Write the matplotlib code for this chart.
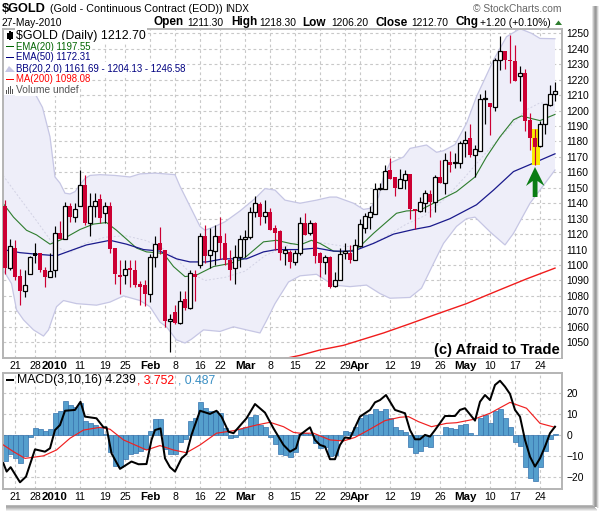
import numpy as np
import matplotlib
matplotlib.use('Agg')
import matplotlib.pyplot as plt
from matplotlib.patches import Rectangle, Polygon

plt.rcParams['font.family'] = ['Liberation Sans', 'DejaVu Sans']

W, H = 601, 514

# ---- daily candles (price) ----
opens = [1138,1098,1111,1093,1083.5,1094.5,1108,1107.5,1097,1092.5,1096.5,1120.5,1117,1138,1131,1138.5,1152,1127.5,1138,1142.5,1133.5,1138,1111,1093.5,1093.5,1098,1097,1087.5,1087,1081,1105.5,1114,1110,1063.5,1069.5,1062.5,1078,1072,1094.5,1100,1119,1106.5,1109,1119,1114,1103,1098,1105.5,1117,1118,1134,1139.5,1132,1134.5,1124,1122,1108,1108.5,1102,1107.5,1127.5,1120.5,1127,1107.5,1102,1105.5,1086.5,1090,1107.5,1108,1103.5,1112,1124,1131,1133,1149,1149.5,1161.5,1157,1150,1155,1159,1136.5,1135,1140,1146,1141,1157,1153,1167,1166,1166,1179,1182,1171,1174,1207.5,1205,1202.5,1232.5,1238.5,1233,1232,1222.5,1224.5,1194,1182.5,1177,1191,1203.5,1211]
highs = [1142,1117,1116.5,1097.5,1097,1106,1114.5,1108,1099,1107.5,1125,1128.5,1140.5,1140,1140,1161.5,1158,1146.5,1146.5,1146,1141,1141,1111,1103.5,1103.5,1103,1103,1089.5,1090,1107,1118.5,1124.5,1110,1068,1074,1083,1083,1097,1097,1121,1126,1124,1126,1131,1120.5,1110,1113,1119.5,1122.5,1137.5,1144.5,1141,1142,1137,1126,1122.5,1112,1110,1110,1131,1133.5,1129,1128,1108.5,1106.5,1106,1095.5,1111,1114,1113,1117,1129.5,1133.5,1138,1153,1153,1165,1169.5,1157,1162,1161.5,1159,1136.5,1144,1148.5,1148.5,1158,1168,1172.5,1173.5,1172.5,1180,1187,1191.5,1177.5,1211,1213,1205,1234,1248,1238.5,1249,1242.5,1229,1227,1198.5,1188,1193,1204.5,1216.5,1218.5]
lows = [1094.5,1096.5,1090.5,1074,1079,1094.5,1101,1095.5,1085.5,1092.5,1092.5,1117,1117,1128,1128,1138,1126,1118.5,1131,1127.5,1127.5,1107.5,1088,1081.5,1088,1085.5,1086,1074,1073.5,1076,1099,1107,1060,1044,1062,1062,1071,1071.5,1077,1098,1101,1098,1100,1104,1100,1090,1088,1099,1105.5,1117,1131,1126,1127,1122.5,1110,1103,1100,1098,1100,1106.5,1119.5,1119.5,1101,1092.5,1094.5,1085,1085.5,1090,1104,1101.5,1103,1111.5,1121,1123,1133,1148.5,1149,1155.5,1145,1150,1149.5,1130,1123,1134.5,1134.5,1131,1134.5,1153,1146,1160.5,1162.5,1163,1170,1170,1157,1173.5,1191.5,1184,1200,1226.5,1227,1218,1219,1206.5,1187,1174.5,1165,1176.5,1185,1203,1206]
closes = [1098,1112,1092.5,1083,1087,1105,1106,1096.5,1092.5,1096,1120.5,1117,1138,1131,1136.5,1152,1127.5,1138,1141.5,1130.5,1138,1110.5,1094.5,1092.5,1097.5,1097,1087,1085.5,1081,1105.5,1113.5,1110,1063.5,1065,1062.5,1077,1072,1095,1092.5,1119,1106,1109.5,1119,1114,1103,1097,1105.5,1117,1118,1134,1140,1131,1134,1122.5,1121,1108,1110,1102,1108,1127.5,1119.5,1127,1106,1101.5,1105,1086,1090,1107,1109,1103,1113,1126.5,1132,1134,1149,1149.5,1161,1156,1150,1156,1159,1136,1135,1140.5,1146.5,1140.5,1157,1153,1168,1165,1166.5,1179,1181,1171,1175,1207.8,1208,1202.5,1232.5,1238.5,1232.5,1232,1219,1224.5,1193.5,1182,1176.5,1191.5,1204,1211,1212.5]

# ---- overlays: (bar number, price) ----
bbu_x = [-0.4,3,6,7.5,9,10,11,12,13,14,15,16,17,19,22,25,27,30,34,35,37,39,40,42,44,47,50,52,54,56,59,62.3,65,66.3,69.7,71.7,73,74.7,75.7,77,79.7,81,84.3,86.3,87.7,90,92.3,94.3,97.7,100.3,103,105.3,107,110]
bbu_y = [1215,1213,1211,1202,1183,1157,1153,1146.5,1146,1147.5,1152,1156,1158,1158.5,1158,1157,1159,1159.5,1158.5,1151,1138,1125,1122.5,1125,1128,1135,1143,1149.5,1148.5,1142,1140,1142,1144,1144,1140,1136,1136.7,1144,1157,1166,1170,1175.5,1177.7,1173,1174,1178,1191.7,1209,1232.7,1247.8,1253,1250,1246.7,1246.5]
bbl_x = [-0.4,1.3,2.3,3.7,5.7,7.7,8.7,10.3,11.7,14.3,18.3,21,23.7,27,29,31,32.3,34.3,36,37.3,39.7,43,45.7,48.3,51,52.3,54,56.7,59,62.3,65.7,69,72.3,75,77,81,83.3,85.7,87.7,90.3,92.3,94,97,100,101.7,105,110]
bbl_y = [1097,1088,1071,1064.5,1058,1054,1058,1073,1077,1075,1074,1076,1080,1077,1073,1063,1060,1051.5,1049.5,1052,1058,1057,1060,1058,1056,1064,1075,1089,1093,1094,1087,1086,1087,1081.5,1078.5,1079,1085,1101,1114,1125,1130,1131,1121.5,1113,1120.5,1140,1161.5]
bbm_x = [-0.4,3,6,10,13,16,20,24,28,31,34,37,40,44,48,52,56,60,64,68,72,76,80,84,88,92,96,100,104,107,110]
bbm_y = [1158,1143,1130,1112,1108,1114,1118,1119,1116,1112,1105,1095,1090,1092,1096,1106,1112,1116,1114,1112,1112,1118,1126,1132,1143,1157,1172,1186,1200,1205,1204]
ema20_x = [-0.4,1.7,4.3,6.3,9,11.7,15,17.7,20.3,22.3,26.3,28.3,31.7,33.7,36,38.3,41.7,45,47.7,51.7,54.3,57,59,61.3,63,65.7,67.7,70.3,73.7,78.3,80.3,83,86.3,90.3,94,96.3,99,101.7,103.3,105.7,107,110]
ema20_y = [1140,1131,1122.5,1119.5,1113.5,1117,1123,1126.5,1127.5,1122.5,1111,1108.5,1107.5,1099,1092.5,1093.5,1099,1101,1104,1115,1116,1114,1113,1116,1114,1109,1108.5,1110,1120.5,1133.5,1135,1135.5,1141,1147.5,1157,1170,1183,1194,1196.5,1194.5,1193.5,1197.5]
ema50_x = [-0.4,3,6.3,10.3,13.7,16.3,21,24.3,27.7,31,34.3,37,40.3,43.7,48.3,51.7,54.3,59,62.3,65.7,69.7,73.7,77.7,81.7,85,89,94.3,97.7,101.7,105.7,110]
ema50_y = [1110,1108,1107,1106,1110,1113,1116,1113.5,1110,1109,1104,1102,1102,1104,1104,1108.5,1110,1110,1111,1109,1109,1114,1120,1123,1125,1130,1139,1148.5,1160.5,1166,1172]
ma200_x = [56,59,63,67.7,71.7,75.7,81,85.7,92.3,99,104.3,110]
ma200_y = [1039.5,1041.5,1045,1048,1052,1056,1062,1067.5,1075,1084,1091,1098]

# ---- MACD ----
hist_vals = [-12.2,-9,-10.6,-13,-9.8,-1,3.3,2.9,2.2,2.9,10.5,11.6,16.3,14.4,13.3,15.5,6.8,5.7,4.9,4,0.6,-7.8,-14.6,-15,-11.4,-8.9,-8.6,-7.3,-6.7,2,7.6,7.6,-6.5,-9,-9,-3,-1.9,6.8,8.4,15.7,12.9,11.6,11.6,10.5,3.3,-1.4,-0.6,2.9,3.8,8.6,9.7,4.9,3.8,-1,-4,-9,-9.4,-10.2,-7.8,0.5,1,0.8,-3.5,-6.2,-5.4,-9.8,-9.4,-2.2,2,1.7,3.8,8.1,9.7,10.2,12.4,11.4,12.4,8.4,3.8,2.5,1.7,-5.7,-8.6,-7.5,-4.9,-5.4,0.1,0.1,3.8,3.3,2.9,5,5.2,1,0.1,8.1,9.7,5.7,11.6,12.4,8.1,3.8,-3,-4.9,-14.9,-20.5,-21.9,-15.2,-7.6,-1.9,0.5]
macd_x = [-0.33,0.33,1.13,3,4.2,6,8,9,10,11,12,14,15.1,16,18.3,19.7,20.3,21.3,23,25.3,26.7,28.3,29.3,30,31.1,32,33,34,35.3,36.3,37.3,39,41,42.3,43.3,44.7,45.7,47.3,48.3,50,52,53.7,55.7,57,58.2,59,61,62,63,64,65,66,67,68,69,71,73,74,75,76.2,78,80,81,82,83,84,85,86,88,90,91,92,94,95,96,97,98,99,100,101,102,103,104,105,106,107,108,109,110]
macd_y = [-13.3,-17.3,-15.2,-22.4,-19.7,-6.7,-7.8,-6.2,2.5,4.9,11.7,12.1,16,8.9,8.1,3.8,3.8,-8.6,-16,-12.5,-13.8,-13.7,-2.2,2.5,3.3,-11,-15.2,-17.3,-11,-8.9,0.2,11.7,10.2,11.7,8.9,1.7,1,5.4,8.1,14.9,10.8,3.3,-4.6,-7.8,-6.2,0.2,3.8,-2.2,-4.6,-5.4,-11.4,-11.4,-4.6,-1,-1.4,8.9,12.1,15.7,16.8,19.2,12.1,10.5,2.5,-1.9,-1.9,0.2,-0.6,2.5,9.2,9.2,12.1,12.9,7,16,19.2,16.8,24,26,23.2,19.7,12.1,8.9,-2.2,-10.2,-14.9,-11,-5.4,1,4.1]
signal_x = [-0.33,1.7,4,7.7,10.3,13,15.7,19,21,23.7,28.3,31,33.7,36.3,39,42.3,45.7,50.3,53,55.7,57.7,59,61.7,65,67.7,70,73,76,79,80.7,82.7,85.3,88.3,90.3,93.7,97,101,104.3,107,110]
signal_y = [-4.6,-7.8,-11,-9.8,-7,-1.4,2.5,3.8,2.9,-2.2,-7,-4.9,-7,-8.3,-4.6,1,2.2,4.9,6.2,4.1,1.4,1,1,-2.2,-2.7,-1,2.9,7,8.6,8.9,6.5,4.1,5.7,6,7.6,10.5,15.7,12.9,5.7,3.8]

# ---- axis labels ----
tick_pos = [2,6,10,15,20,24,29,34,39,43,48,53,58,63,68,71,77,82,87,92,97,102,107]
tick_labels = ['21','28','2010','11','19','25','Feb','8','16','22','Mar','8','15','22','29','Apr','12','19','26','May','10','17','24']
bold_labels = {'2010','Feb','Mar','Apr','May'}
price_ticks = list(range(1050,1251,10))
macd_ticks = [-20,-10,0,10,20]

CANDLE_RED = '#cc0033'
GRID = '#c8c8c8'
FRAME = '#b4b4b4'

fig = plt.figure(figsize=(W/100, H/100), dpi=100, facecolor='white')

def axes_px(l, t, r, b):
    return fig.add_axes([l/W, 1-b/H, (r-l)/W, (b-t)/H])

def txt(x, y, s, size=10, color='black', weight='normal', ha='left', **kw):
    return fig.text(x/W, 1-y/H, s, fontsize=size*0.72, color=color, fontweight=weight,
                    ha=ha, va='center', **kw)

# drop shadow
for k, (c) in enumerate(['#e4e4e4','#c4c4c4','#a8a8a8','#999999','#a8a8a8','#cfcfcf','#ececec']):
    fig.patches.append(Rectangle(((592+k)/W, 1-(506+k*0.3)/H), 1/W, (500+k*0.3)/H, transform=fig.transFigure, fc=c, ec='none'))
for k, (c) in enumerate(['#b8b8b8','#a8a8a8','#b0b0b0','#c4c4c4','#d8d8d8','#ececec']):
    fig.patches.append(Rectangle((6/W, 1-(505+k+1)/H), (587+min(k,4))/W, 1/H, transform=fig.transFigure, fc=c, ec='none'))

# ---- price panel ----
ax = axes_px(3, 29, 562, 358)
ax.set_xlim(-0.4, 111.4)
ax.set_ylim(1039.8, 1252.8)
ax.set_axisbelow(True)
ax.set_xticks(tick_pos)
ax.set_yticks(price_ticks)
ax.grid(True, color=GRID, lw=0.8, ls=(0, (2.5, 2.5)))
ax.tick_params(length=0, labelbottom=False, labelleft=False, labelright=True, pad=3)
for lab in ax.get_yticklabels():
    lab.set_fontsize(7.4)
for s in ax.spines.values():
    s.set_color(FRAME); s.set_linewidth(1.4)

ax.fill(np.r_[bbu_x, bbl_x[::-1]], np.r_[bbu_y, bbl_y[::-1]], fc='#eeeef9', ec='none', zorder=1.5)
ax.plot(bbu_x, bbu_y, color='#c6c6e4', lw=0.9, zorder=1.6)
ax.plot(bbl_x, bbl_y, color='#c6c6e4', lw=0.9, zorder=1.6)
ax.plot(bbm_x, bbm_y, color='#d2d2e4', lw=0.7, ls=(0,(2,2)), zorder=1.6)
ax.plot(ma200_x, ma200_y, color='#f01c1c', lw=1.0, zorder=2)
ax.plot(ema20_x, ema20_y, color='#2e7d2e', lw=0.8, zorder=2)
ax.plot(ema50_x, ema50_y, color='#1a1a8c', lw=0.9, zorder=2)

# yellow highlight behind candle
ax.add_patch(Rectangle((105.4, 1164.5), 1.6, 23.5, fc='#f8ec00', ec='none', zorder=2.5))

idx = np.arange(len(closes))
o = np.array(opens); c = np.array(closes); hi = np.array(highs); lo = np.array(lows)
prev = np.r_[c[0]+1, c[:-1]]
colors = [CANDLE_RED if c[i] < prev[i] else 'black' for i in idx]
ax.vlines(idx, lo, hi, colors=colors, lw=0.85, zorder=3)
for i in idx:
    up = c[i] >= o[i]
    bot, top = min(o[i], c[i]), max(o[i], c[i])
    h = max(top-bot, 0.6)
    if up:
        ax.bar(i, h, bottom=bot, width=0.68, fc='white', ec=colors[i], lw=0.9, zorder=4)
    else:
        ax.bar(i, h, bottom=bot, width=0.92, fc=colors[i], ec='none', zorder=4)

# green arrow
ARROW_GREEN = '#0a7d14'
fig.patches.append(Polygon(np.array([[535,167],[544.5,186],[537.5,181],[537.5,197],[532.7,197],[532.7,181],[526,186]])/[W,H]*[1,-1]+[0,1],
                           closed=True, transform=fig.transFigure, fc=ARROW_GREEN, ec='none', zorder=6))

# ---- MACD panel ----
ax2 = axes_px(3, 373, 562, 489)
ax2.set_xlim(-0.4, 111.4)
ax2.set_ylim(-25.6, 29.7)
ax2.set_axisbelow(True)
ax2.set_xticks(tick_pos)
ax2.set_yticks(macd_ticks)
ax2.grid(True, color=GRID, lw=0.8, ls=(0, (2.5, 2.5)))
ax2.tick_params(length=0, labelbottom=False, labelleft=False, labelright=True, pad=3)
for lab in ax2.get_yticklabels():
    lab.set_fontsize(7.4)
for s in ax2.spines.values():
    s.set_color(FRAME); s.set_linewidth(1.4)
ax2.bar(idx, hist_vals, width=1.0, fc='#559fcd', ec='#3572ad', lw=0.5, zorder=2)
ax2.plot(signal_x, signal_y, color='#f02020', lw=0.85, zorder=3)
ax2.plot(macd_x, macd_y, color='black', lw=1.45, zorder=4)

# x labels under both panels
for a, y in ((ax, 366), (ax2, 497)):
    for p, s in zip(tick_pos, tick_labels):
        b = s in bold_labels
        px = 3 + (p+0.4)/111.8*559
        txt(px, y, s, size=11.5 if b else 10.5, weight='bold' if b else 'normal', ha='center')

# header
txt(2, 9.5, '$GOLD', size=12.8, weight='bold')
txt(50, 9.5, '(Gold - Continuous Contract (EOD))', size=10.7)
txt(225, 9.5, 'INDX', size=10)
txt(2, 22.5, '27-May-2010', size=10.3)
for x, s, b in [(154,'Open',True),(187,'1211.30',False),(231,'High',True),(259,'1218.30',False),
                (302,'Low',True),(331,'1206.20',False),(375,'Close',True),(411,'1212.70',False),
                (455,'Chg',True),(480,'+1.20 (+0.10%)',False)]:
    txt(x, 22.5, s, size=11.7 if b else 10.3, weight='bold' if b else 'normal')
txt(473, 9.5, '© StockCharts.com', size=10.3, color='#666666')
fig.patches.append(Polygon(np.array([[558.5,20.5],[562,25],[555,25]])/[W,H]*[1,-1]+[0,1], closed=True,
                           transform=fig.transFigure, fc='#2e7d2e', ec='none', zorder=6))

# legend of price panel
legend_rows = [(35.5,'$GOLD (Daily) 1212.70','black',12.4),(46.5,'EMA(20) 1197.55','#006400',9.6),(57.5,'EMA(50) 1172.31','#000080',9.6),
               (68.5,'BB(20,2.0) 1161.69 - 1204.13 - 1246.58','#000080',9.6),(79.5,'MA(200) 1098.08','#ff0000',9.6),(90,'Volume undef','#555555',10.3)]
for y, s, col, sz in legend_rows:
    t = txt(16, y, s, size=sz, color=col, zorder=7)
    t.set_bbox(dict(fc='white', ec='none', pad=0.8))
fig.patches.append(Rectangle((4/W, 1-95/H), 12/W, 65/H, transform=fig.transFigure, fc='white', ec='none', zorder=5))
for y, col in [(46.5,'#006400'),(57.5,'#000080'),(79.5,'#ff0000')]:
    fig.patches.append(Rectangle((6/W, 1-(y+0.8)/H), 8/W, 1.6/H, transform=fig.transFigure, fc=col, ec='none', zorder=6))
fig.patches.append(Polygon(np.array([[5,72],[9,66],[12,69],[15,72]])/[W,H]*[1,-1]+[0,1], closed=True,
                           transform=fig.transFigure, fc='#c6c6e4', ec='none', zorder=6))
for xx, hh in [(6,4),(8,7),(10,8),(12,5)]:
    fig.patches.append(Rectangle((xx/W, 1-94/H), 1.4/W, hh/H, transform=fig.transFigure, fc='#555555', ec='none', zorder=6))
for xx, hh in [(7,6),(9,9),(11,7)]:
    fig.patches.append(Rectangle((xx/W, 1-(35.5+hh/2)/H), 1.6/W, hh/H, transform=fig.transFigure, fc='black', ec='none', zorder=6))

# MACD legend
t = txt(17, 380.5, 'MACD(3,10,16) 4.239', size=12.3, zorder=7)
t2 = txt(137, 380.5, ', 3.752', size=12.3, color='#ff0000', zorder=7)
t3 = txt(178, 380.5, ', 0.487', size=12.3, color='#3a8fc4', zorder=7)
fig.patches.append(Rectangle((6/W, 1-381/H), 8/W, 2/H, transform=fig.transFigure, fc='black', ec='none', zorder=6))

# credit
cr = txt(560, 350, '(c) Afraid to Trade', size=14.8, weight='bold', ha='right', zorder=7)
cr.set_bbox(dict(fc='white', ec='none', pad=0.5))

fig.savefig('out.png', dpi=100)
